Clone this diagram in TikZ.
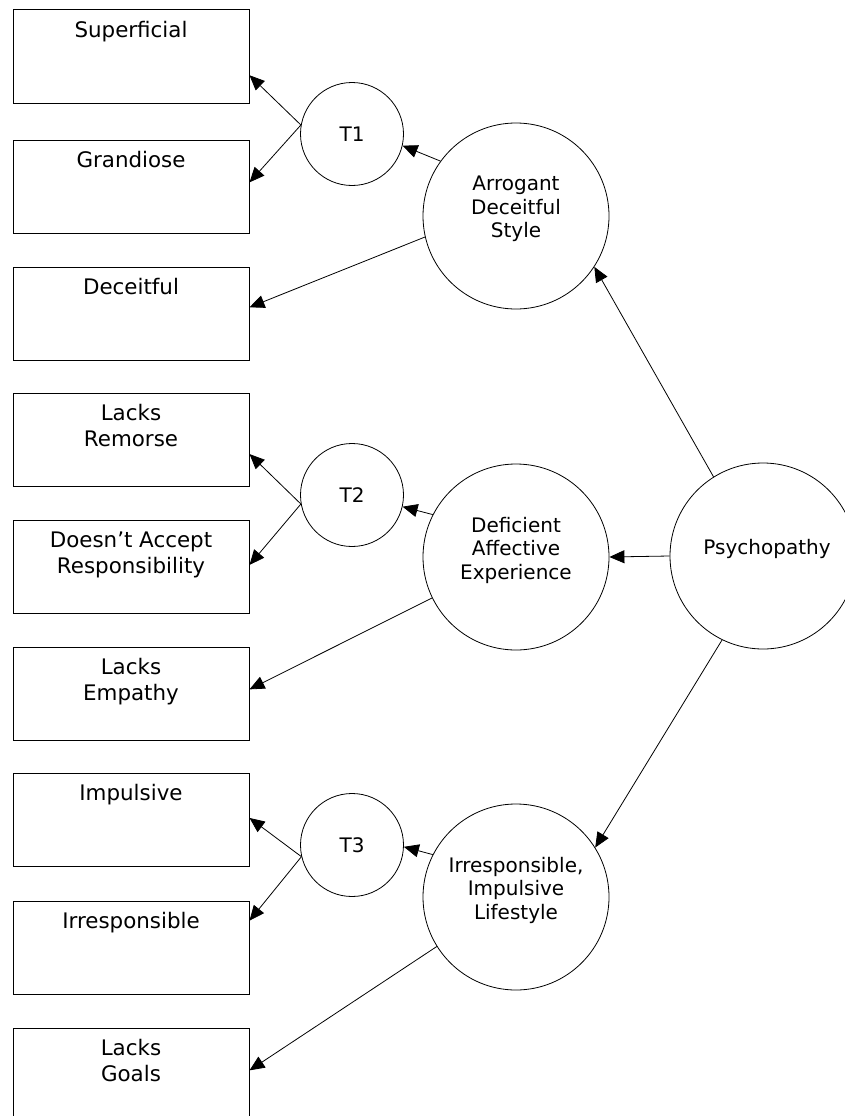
\documentclass[tikz,border=0pt]{standalone}
\usepackage{fontspec}
\setmainfont{DejaVu Sans}
\usetikzlibrary{arrows.meta}

\begin{document}
\begin{tikzpicture}[x=1pt,y=-1pt,
  indicator/.style={draw, line width=1pt, minimum width=236pt, minimum height=93pt, inner sep=0pt},
  itemtext/.style={anchor=north, inner sep=11.5pt, align=center, font=\fontsize{21.4}{26}\selectfont},
  trait/.style={draw, circle, line width=0.8pt, minimum size=186pt, inner sep=0pt},
  traittext/.style={yshift=7pt, align=center, font=\fontsize{20}{23.5}\selectfont},
  method/.style={draw, circle, line width=0.8pt, minimum size=103pt, inner sep=0pt, font=\fontsize{20}{23.5}\selectfont},
  load/.style={-{Triangle[length=15pt,width=13pt]}, line width=0.8pt}]
\useasboundingbox (0,0) rectangle (844,1116);
% observed items
\node[indicator, label={[itemtext]north:Superficial}] (sup) at (131,56.5) {};
\node[indicator, label={[itemtext]north:Grandiose}] (gra) at (131,186.5) {};
\node[indicator, label={[itemtext]north:Deceitful}] (dec) at (131,313.5) {};
\node[indicator, label={[itemtext]north:Lacks\\Remorse}] (rem) at (131,439.5) {};
\node[indicator, label={[itemtext]north:Doesn’t Accept\\Responsibility}] (acc) at (131,567) {};
\node[indicator, label={[itemtext]north:Lacks\\Empathy}] (emp) at (131,693.5) {};
\node[indicator, label={[itemtext]north:Impulsive}] (imp) at (131,820) {};
\node[indicator, label={[itemtext]north:Irresponsible}] (irr) at (131,948) {};
\node[indicator, label={[itemtext]north:Lacks\\Goals}] (goa) at (131,1074.5) {};
% testlet factors
\node[method] (t1) at (352,134) {T1};
\node[method] (t2) at (352,495) {T2};
\node[method] (t3) at (352,845) {T3};
% traits
\node[trait, label={[traittext]center:Arrogant\\Deceitful\\Style}] (ads) at (516,216) {};
\node[trait, label={[traittext]center:Deficient\\Affective\\Experience}] (dae) at (516,557) {};
\node[trait, label={[traittext]center:Irresponsible,\\Impulsive\\Lifestyle}] (iil) at (516,897) {};
\node[trait, label={[traittext, xshift=4pt]center:Psychopathy}] (psy) at (763,556) {};

\draw[load] (t1.170) -- (sup.-9);
\draw[load] (t1.170) -- (gra.2);
\draw[load] (t2.190) -- (rem.-7.5);
\draw[load] (t2.190) -- (acc.1);
\draw[load] (t3.193) -- (imp.1);
\draw[load] (t3.193) -- (irr.13);
\draw[load] (ads.193) -- (dec.3);
\draw[load] (dae.206) -- (emp.2);
\draw[load] (iil.212) -- (goa.2);
\draw[load] (ads.144) -- (t1.-13);
\draw[load] (dae.153) -- (t2.-13);
\draw[load] (iil.153) -- (t3.-2);
\draw[load] (psy.122) -- (ads.-33);
\draw[load] (psy.west) -- (dae.east);
\draw[load] (psy.244) -- (iil.32);
\end{tikzpicture}
\end{document}
